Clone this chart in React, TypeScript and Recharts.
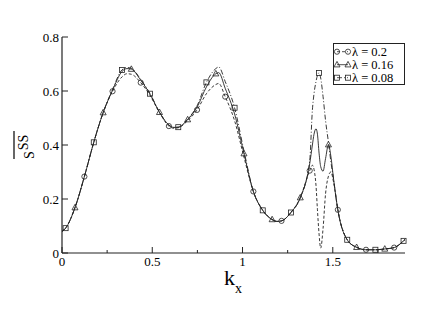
import React from "react";
import { ComposedChart, Line, XAxis, YAxis, Legend } from "recharts";

// k_x sample points (marker grid every 0.052 plus extra points at the peaks)
const KX = [
  0, 0.02, 0.072, 0.124, 0.176, 0.228, 0.28, 0.332, 0.36, 0.384, 0.436, 0.488, 0.54, 0.592, 0.62,
  0.644, 0.696, 0.748, 0.8, 0.852, 0.868, 0.904, 0.956, 1.008, 1.06, 1.112, 1.164, 1.19, 1.216,
  1.268, 1.32, 1.372, 1.387, 1.396, 1.407, 1.415, 1.424, 1.433, 1.446, 1.46, 1.476, 1.489, 1.505,
  1.528, 1.58, 1.632, 1.684, 1.736, 1.788, 1.84, 1.892, 1.9,
];

// which symbol sits on each point: s = square (0.08), t = triangle (0.16), c = circle (0.2)
const MARK = [
  "", "s", "t", "c", "s", "t", "c", "s", "", "t", "c", "s", "t", "c", "",
  "s", "t", "c", "s", "t", "", "c", "s", "t", "c", "s", "t", "", "c",
  "s", "t", "c", "", "", "", "", "s", "", "", "", "t", "", "",
  "c", "s", "t", "c", "s", "t", "c", "s", "",
];

// lambda = 0.2 (dashed)
const S_020 = [
  0.08, 0.092, 0.168, 0.283, 0.41, 0.52, 0.599, 0.652, 0.664, 0.662, 0.631, 0.583, 0.52, 0.47, 0.462,
  0.464, 0.49, 0.53, 0.59, 0.624, 0.628, 0.579, 0.49, 0.355, 0.228, 0.158, 0.124, 0.117, 0.119,
  0.15, 0.205, 0.305, 0.325, 0.31, 0.25, 0.16, 0.07, 0.018, 0.09, 0.22, 0.285, 0.3, 0.26,
  0.16, 0.049, 0.021, 0.012, 0.012, 0.015, 0.02, 0.045, 0.05,
];

// lambda = 0.16 (solid)
const S_016 = [
  0.08, 0.092, 0.168, 0.283, 0.41, 0.52, 0.603, 0.672, 0.683, 0.681, 0.64, 0.588, 0.521, 0.474, 0.465,
  0.466, 0.494, 0.54, 0.615, 0.664, 0.668, 0.61, 0.515, 0.368, 0.228, 0.158, 0.124, 0.117, 0.119,
  0.15, 0.205, 0.33, 0.4, 0.44, 0.46, 0.44, 0.37, 0.32, 0.303, 0.35, 0.401, 0.36, 0.27,
  0.16, 0.049, 0.021, 0.012, 0.012, 0.015, 0.02, 0.045, 0.05,
];

// lambda = 0.08 (dash-dot)
const S_008 = [
  0.08, 0.092, 0.168, 0.283, 0.41, 0.52, 0.606, 0.678, 0.687, 0.684, 0.643, 0.59, 0.522, 0.474, 0.465,
  0.466, 0.496, 0.545, 0.632, 0.683, 0.689, 0.635, 0.538, 0.378, 0.228, 0.158, 0.124, 0.117, 0.119,
  0.15, 0.205, 0.34, 0.53, 0.59, 0.635, 0.658, 0.667, 0.648, 0.58, 0.49, 0.41, 0.34, 0.27,
  0.16, 0.049, 0.021, 0.012, 0.012, 0.015, 0.02, 0.045, 0.05,
];

const X_TICKS = [0, 0.25, 0.5, 0.75, 1, 1.25, 1.5, 1.75];
const X_LABELS = [0, 0.5, 1, 1.5];
const Y_TICKS = [0, 0.2, 0.4, 0.6, 0.8];

const LEGEND = [
  { label: "λ = 0.2", mark: "c", dash: "3 2" },
  { label: "λ = 0.16", mark: "t", dash: undefined },
  { label: "λ = 0.08", mark: "s", dash: "5 2 1 2" },
];

const INK = "#222";
const FONT = "Liberation Serif";

const data = KX.map((x, i) => ({ x, a: S_020[i], b: S_016[i], c: S_008[i], m: MARK[i] }));

function Marker({ kind, cx, cy }: { kind: string; cx: number; cy: number }) {
  const st = { stroke: INK, strokeWidth: 0.8, fill: "none" };
  if (kind === "c") return <circle cx={cx} cy={cy} r={2.6} {...st} />;
  if (kind === "t")
    return <polygon points={`${cx},${cy - 3.3} ${cx - 3},${cy + 2.2} ${cx + 3},${cy + 2.2}`} {...st} />;
  return <rect x={cx - 2.5} y={cy - 2.5} width={5} height={5} {...st} />;
}

const dotFor = (kind: string) => (p: any) =>
  p.payload.m === kind ? (
    <Marker key={`d-${kind}-${p.index}`} kind={kind} cx={p.cx} cy={p.cy} />
  ) : (
    <g key={`d-${kind}-${p.index}`} />
  );

function BottomTick(p: any) {
  const v = p.payload.value;
  const major = X_LABELS.includes(v);
  return (
    <g>
      <line x1={p.x} x2={p.x} y1={p.y} y2={p.y - (major ? 6 : 3)} stroke={INK} />
      {major && (
        <text x={p.x} y={p.y + 13} textAnchor="middle" fontSize={13} fontFamily={FONT} fill="#000">
          {String(v)}
        </text>
      )}
    </g>
  );
}

function TopTick(p: any) {
  const major = X_LABELS.includes(p.payload.value);
  return <line x1={p.x} x2={p.x} y1={p.y} y2={p.y + (major ? 6 : 3)} stroke={INK} />;
}

function LeftTick(p: any) {
  return (
    <g>
      <line x1={p.x} x2={p.x + 6} y1={p.y} y2={p.y} stroke={INK} />
      <text x={p.x - 3} y={p.y + 4.5} textAnchor="end" fontSize={13} fontFamily={FONT} fill="#000">
        {String(p.payload.value)}
      </text>
    </g>
  );
}

function RightTick(p: any) {
  return <line x1={p.x} x2={p.x - 6} y1={p.y} y2={p.y} stroke={INK} />;
}

function LegendBox() {
  return (
    <svg width={72} height={42} style={{ display: "block" }}>
      <rect x={0.5} y={0.5} width={71} height={41} fill="#fff" stroke={INK} />
      {LEGEND.map((e, i) => {
        const cy = 8.7 + i * 13;
        return (
          <g key={e.label}>
            <line x1={4} x2={15} y1={cy} y2={cy} stroke={INK} strokeWidth={0.8} strokeDasharray={e.dash} />
            <Marker kind={e.mark} cx={4} cy={cy} />
            <Marker kind={e.mark} cx={15} cy={cy} />
            <text x={19} y={cy + 4.3} fontSize={12.5} fontFamily={FONT} fill="#000">
              {e.label}
            </text>
          </g>
        );
      })}
    </svg>
  );
}

export default function App() {
  return (
    <div style={{ position: "absolute", left: 0, top: 0, width: 436, height: 309, background: "#fff" }}>
      <ComposedChart width={436} height={309} data={data} margin={{ top: 37, right: 31, bottom: 26, left: 2 }}>
        <XAxis
          xAxisId="b"
          dataKey="x"
          type="number"
          domain={[0, 1.9]}
          ticks={X_TICKS}
          interval={0}
          height={30}
          tickSize={0}
          tickMargin={0}
          tickLine={false}
          axisLine={{ stroke: INK, strokeWidth: 1.2 }}
          tick={(p: any) => <BottomTick {...p} />}
          label={{
            content: () => (
              <text x={224} y={285} fontSize={22} fontFamily={FONT} fill="#000">
                k
                <tspan fontSize={14} dy={8}>
                  x
                </tspan>
              </text>
            ),
          }}
        />
        <XAxis
          xAxisId="t"
          orientation="top"
          dataKey="x"
          type="number"
          domain={[0, 1.9]}
          ticks={X_TICKS}
          interval={0}
          height={0}
          tickSize={0}
          tickMargin={0}
          tickLine={false}
          axisLine={{ stroke: INK, strokeWidth: 1.2 }}
          tick={(p: any) => <TopTick {...p} />}
        />
        <YAxis
          yAxisId="l"
          type="number"
          domain={[0, 0.8]}
          ticks={Y_TICKS}
          interval={0}
          width={60}
          tickSize={0}
          tickMargin={0}
          tickLine={false}
          axisLine={{ stroke: INK, strokeWidth: 1.2 }}
          tick={(p: any) => <LeftTick {...p} />}
          label={{
            content: () => (
              <g>
                <line x1={14} x2={14} y1={131} y2={159} stroke="#000" strokeWidth={1.2} />
                <text transform="translate(33.5,159) rotate(-90)" fontSize={14} fontFamily={FONT} fill="#000">
                  S
                  <tspan dx={1} dy={-6}>
                    SS
                  </tspan>
                </text>
              </g>
            ),
          }}
        />
        <YAxis
          yAxisId="r"
          orientation="right"
          type="number"
          domain={[0, 0.8]}
          ticks={Y_TICKS}
          interval={0}
          width={0}
          tickSize={0}
          tickMargin={0}
          tickLine={false}
          axisLine={{ stroke: INK, strokeWidth: 1.2 }}
          tick={(p: any) => <RightTick {...p} />}
        />
        <Line
          xAxisId="b"
          yAxisId="l"
          type="monotone"
          dataKey="a"
          stroke={INK}
          strokeWidth={0.9}
          strokeDasharray="3 2"
          dot={dotFor("c")}
          activeDot={false}
          isAnimationActive={false}
        />
        <Line
          xAxisId="b"
          yAxisId="l"
          type="monotone"
          dataKey="b"
          stroke={INK}
          strokeWidth={0.9}
          dot={dotFor("t")}
          activeDot={false}
          isAnimationActive={false}
        />
        <Line
          xAxisId="b"
          yAxisId="l"
          type="monotone"
          dataKey="c"
          stroke={INK}
          strokeWidth={0.9}
          strokeDasharray="5 2 1 2"
          dot={dotFor("s")}
          activeDot={false}
          isAnimationActive={false}
        />
        <Legend
          layout="vertical"
          align="center"
          verticalAlign="middle"
          wrapperStyle={{ position: "absolute", left: 333, top: 43, width: 72 }}
          content={() => <LegendBox />}
        />
      </ComposedChart>
    </div>
  );
}
